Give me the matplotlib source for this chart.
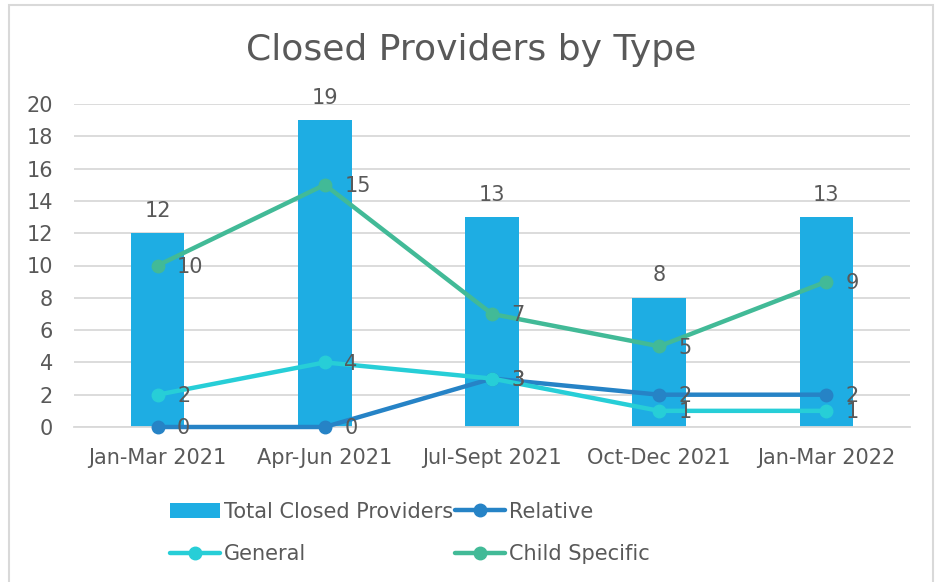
import numpy as np
import matplotlib.pyplot as plt
from matplotlib.patches import Rectangle

# data
quarters = ["Jan-Mar 2021", "Apr-Jun 2021", "Jul-Sept 2021", "Oct-Dec 2021", "Jan-Mar 2022"]
total_closed = [12, 19, 13, 8, 13]
relative = [0, 0, 3, 2, 2]
general = [2, 4, 3, 1, 1]
child_specific = [10, 15, 7, 5, 9]

txt = "#595959"
plt.rcParams['font.family'] = ['DejaVu Sans']

fig = plt.figure(figsize=(9.38, 5.82), dpi=100)
ax = fig.add_axes([74 / 938, 1 - 427 / 582, 836 / 938, 323 / 582])

x = np.arange(len(quarters))
bars = ax.bar(x, total_closed, width=0.32, color="#1EADE3", label="Total Closed Providers", zorder=2)
for xi, v in zip(x, total_closed):
    ax.annotate(str(v), (xi, v), xytext=(0, 9), textcoords="offset points",
                ha="center", va="bottom", fontsize=15, color=txt)

series = [
    ("Relative", relative, "#2683C6"),
    ("General", general, "#27CED7"),
    ("Child Specific", child_specific, "#42BA97"),
]
handles = {}
for name, vals, col in series:
    h, = ax.plot(x, vals, color=col, lw=3.2, marker="o", ms=9, label=name, zorder=3,
                 solid_capstyle="round", clip_on=False)
    handles[name] = h
    for xi, v in zip(x, vals):
        ax.annotate(str(v), (xi, v), xytext=(14, -1), textcoords="offset points",
                    ha="left", va="center", fontsize=15, color=txt, zorder=4)

ax.set_xlim(-0.5, len(quarters) - 0.5)
ax.set_ylim(0, 20)
ax.set_yticks(range(0, 21, 2))
ax.set_xticks(x)
ax.set_xticklabels(quarters)
ax.tick_params(length=0, labelsize=15, colors=txt)
ax.tick_params(axis="x", pad=15)
ax.tick_params(axis="y", pad=15)
ax.yaxis.grid(True, color="#D9D9D9", lw=1.3, zorder=0)
ax.set_axisbelow(True)
for s in ["top", "right", "left"]:
    ax.spines[s].set_visible(False)
ax.spines["bottom"].set_color("#D9D9D9")
ax.spines["bottom"].set_linewidth(1.3)

fig.text(471 / 938, 1 - 50 / 582, "Closed Providers by Type", ha="center", va="center",
         fontsize=26, color=txt)

leg = fig.legend([bars, handles["General"], handles["Relative"], handles["Child Specific"]],
                 ["Total Closed Providers", "General", "Relative", "Child Specific"],
                 ncol=2, loc="center", bbox_to_anchor=(410 / 938, 1 - 533 / 582),
                 frameon=False, fontsize=15, handlelength=2.4, handletextpad=0.2,
                 columnspacing=0.1, labelspacing=1.1)
for t in leg.get_texts():
    t.set_color(txt)

# chart border
fig.patches.append(Rectangle((9 / 938, -0.02), 924 / 938, 1.02 - 5 / 582,
                             transform=fig.transFigure, fill=False,
                             edgecolor="#D9D9D9", lw=1.5))

fig.savefig("out.png", dpi=100)
